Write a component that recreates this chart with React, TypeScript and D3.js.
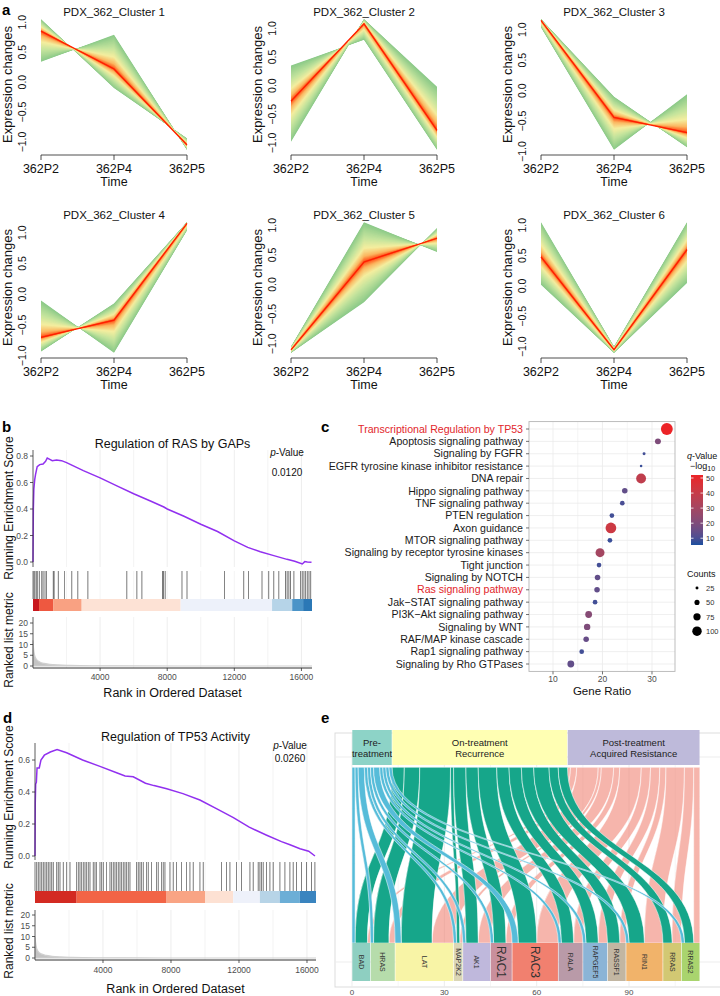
import React, { useEffect } from 'react';
import * as d3 from 'd3';

const FONT = "'Liberation Sans', Arial, Helvetica, sans-serif";

// ---------- a: Mfuzz soft clusters ----------
const timeLabels = ['362P2', '362P4', '362P5'];
const clusterTitles = [1, 2, 3, 4, 5, 6].map((i) => `PDX_362_Cluster ${i}`);
// centroid (membership = 1)
const clusterCentre = [
  [0.85, 0.22, -1.05],
  [-0.27, 1.08, -0.78],
  [1.15, -0.44, -0.69],
  [-0.7, -0.42, 1.15],
  [-1.1, 0.38, 0.78],
  [0.48, -1.05, 0.6],
];
// band edges reached by the lowest-membership genes (one side each)
const clusterEdgeA = [
  [1.05, -0.1, -0.94],
  [-0.98, 1.16, -0.02],
  [1.17, -0.1, -0.93],
  [-0.1, -0.95, 1.04],
  [-1.05, 1.05, 0.55],
  [1.05, -1.0, 1.05],
];
const clusterEdgeB = [
  [0.34, 0.79, -1.13],
  [0.35, 0.8, -1.12],
  [1.04, -0.97, -0.06],
  [-0.93, -0.15, 1.17],
  [-1.15, -0.3, 0.95],
  [0.02, -1.1, 0.05],
];

// ---------- b / d: GSEA ----------
const esB = [
  [0, 0], [20, 0.4], [50, 0.55], [100, 0.62], [150, 0.66], [250, 0.72], [400, 0.735], [600, 0.74],
  [750, 0.76], [850, 0.785], [1000, 0.775], [1150, 0.765], [1400, 0.77], [1700, 0.765], [2000, 0.75],
  [3000, 0.69], [4000, 0.635], [5000, 0.575], [6000, 0.515], [7000, 0.46], [7800, 0.415], [8000, 0.4],
  [9000, 0.345], [10000, 0.285], [11000, 0.23], [12000, 0.16], [12800, 0.11], [13550, 0.078],
  [14300, 0.05], [15140, 0.02], [15600, 0.005], [16050, -0.015], [16200, 0.003], [16350, 0.0], [16600, -0.002],
];
const hitsB = [
  0, 60, 120, 200, 280, 380, 520, 600, 716, 800, 1210, 1260, 1510, 1870, 2310, 2670, 3270, 5590, 6190,
  6490, 7720, 7780, 7880, 8880, 9180, 11420, 12560, 12850, 13650, 14050, 14350, 14650, 15050, 15150,
  15250, 15350, 15550, 15950, 16050, 16150, 16250, 16350, 16450, 16550,
];
const barBreaksB = [0, 360, 1200, 2900, 8800, 14250, 15450, 16100, 16630];
const barColoursB = ['#c8171d', '#ee5840', '#f9a182', '#fde2d5', '#edf1fa', '#b6d4e8', '#4b94c8', '#2b78b6'];
const metricB = [
  [0, 12], [30, 8.5], [80, 5.5], [150, 3.8], [250, 2.7], [400, 1.9], [650, 1.2], [1000, 0.8], [1500, 0.5],
  [2200, 0.3], [3500, 0.12], [6000, 0.04], [9000, 0], [16630, 0],
];

const esD = [
  [0, 0], [15, 0.33], [40, 0.45], [80, 0.46], [120, 0.55], [250, 0.55], [350, 0.6], [550, 0.63], [900, 0.65],
  [1300, 0.665], [1860, 0.645], [2800, 0.6], [3820, 0.56], [4800, 0.52], [5300, 0.5], [5780, 0.495],
  [6500, 0.455], [7000, 0.44], [7750, 0.42], [8700, 0.39], [9700, 0.35], [10700, 0.295], [11670, 0.24],
  [12600, 0.18], [13630, 0.13], [14500, 0.09], [15000, 0.07], [15590, 0.045], [16100, 0.03], [16470, 0.0],
];
const hitsD = [
  0, 98, 196, 294, 392, 490, 588, 686, 784, 882, 980, 1078, 1274, 1372, 1470, 1666, 1862, 2058, 2450, 2548,
  2646, 2744, 2842, 2940, 3038, 3136, 3234, 3430, 3528, 3626, 3822, 3920, 4018, 4214, 4410, 4508, 4606,
  4704, 4802, 4900, 4998, 5096, 5194, 5292, 5390, 5488, 5586, 5978, 6076, 6174, 6272, 6370, 6566, 6664,
  6860, 7154, 7252, 7448, 7546, 7644, 7938, 8134, 8330, 8624, 8918, 9114, 9310, 9702, 9898, 10976, 11270,
  11466, 11858, 12152, 12642, 12838, 13132, 13230, 13328, 13426, 13622, 13818, 14014, 14406, 14700, 14994,
  15190, 15386, 15680, 15974, 16268, 16464,
];
const barBreaksD = [0, 2450, 7740, 10000, 11660, 13230, 14400, 15580, 16530];
const barColoursD = ['#d32a22', '#f26446', '#f9a484', '#fde1d3', '#eef1fa', '#b7d4e7', '#6caed6', '#3a84bf'];
const metricD = [
  [0, 10], [30, 7.5], [80, 5], [150, 3.5], [250, 2.5], [400, 1.8], [650, 1.2], [1000, 0.8], [1500, 0.5],
  [2200, 0.3], [3500, 0.12], [6000, 0.04], [9000, 0], [16530, 0],
];

// ---------- c: pathway enrichment ----------
const pathways = [
  'Transcriptional Regulation by TP53', 'Apoptosis signaling pathway', 'Signaling by FGFR',
  'EGFR tyrosine kinase inhibitor resistance', 'DNA repair', 'Hippo signaling pathway',
  'TNF signaling pathway', 'PTEN regulation', 'Axon guidance', 'MTOR signaling pathway',
  'Signaling by receptor tyrosine kinases', 'Tight junction', 'Signaling by NOTCH',
  'Ras signaling pathway', 'Jak\u2212STAT signaling pathway', 'PI3K\u2212Akt signaling pathway',
  'Signaling by WNT', 'RAF/MAP kinase cascade', 'Rap1 signaling pathway', 'Signaling by Rho GTPases',
];
const geneRatio = [33.0, 31.2, 28.4, 27.8, 27.8, 24.5, 24.0, 21.9, 21.7, 21.5, 19.5, 19.3, 19.0, 18.9, 18.5, 17.2, 16.9, 16.7, 15.8, 13.6];
const pathCounts = [128, 60, 25, 20, 105, 55, 45, 45, 115, 45, 95, 45, 55, 55, 45, 70, 65, 55, 45, 70];
const negLogQ = [52, 20, 9, 8, 38, 14, 10, 9, 42, 8, 30, 9, 14, 14, 9, 22, 20, 15, 9, 14];
const highlighted = ['Transcriptional Regulation by TP53', 'Ras signaling pathway'];
const ratioTicks = [10, 20, 30];
const qTicks = [10, 20, 30, 40, 50];
const countTicks = [25, 50, 75, 100];

// ---------- e: alluvial ----------
const stageLines = [['Pre-', 'treatment'], ['On-treatment', 'Recurrence'], ['Post-treatment', 'Acquired Resistance']];
const genes = ['BAD', 'HRAS', 'LAT', 'MAP2K2', 'AK1', 'RAC1', 'RAC3', 'RALA', 'RAPGEF5', 'RASSF1', 'RIN1', 'RRAS', 'RRAS2'];
const genePre = [1, 1, 2, 1, 1, 1, 2, 1, 1, 0, 1, 0, 1];
const geneOn = [4, 5, 10, 1, 4, 4, 6, 4, 4, 4, 5, 3, 3];
const genePost = [1, 2, 7, 1, 4, 2, 7, 3, 3, 2, 6, 3, 2];
const axisTicksE = [0, 30, 60, 90];

const stageFill = ['#8dd3c7', '#ffffb3', '#bebada'];
const flowFill = ['#56bcd9', '#16a68a', '#ef8070'];
const flowOpacity = [1, 1, 0.58];
const geneFill = ['#8ecfc1', '#b6dcab', '#f8f4a6', '#dbd6b6', '#bfb8dc', '#c98f9c', '#f1806f', '#b99aa8', '#8bb4d6', '#c2b6a2', '#f1b36a', '#d2c873', '#a9d46e'];

// ================= components =================
const memberColour = d3
  .scaleLinear<string>()
  .domain([0, 0.05, 0.16, 0.36, 0.62, 1])
  .range(['#ff2000', '#ff6a28', '#fbb862', '#f4ee9f', '#c5e49d', '#8cca89']);

function MfuzzPanel({ i }: { i: number }) {
  const ox = (i % 3) * 250;
  const oy = Math.floor(i / 3) * 203;
  const c = clusterCentre[i];
  const a = clusterEdgeA[i];
  const b = clusterEdgeB[i];
  const [lo, hi] = d3.extent([...c, ...a, ...b]) as [number, number];
  const pad = (hi - lo) * 0.04;
  const y = d3.scaleLinear().domain([lo - pad, hi + pad]).range([oy + 155, oy + 14]);
  const x = d3.scalePoint<string>().domain(timeLabels).range([ox + 41, ox + 187]);
  const pts = (vals: number[]) => vals.map((v, j) => [x(timeLabels[j])!, y(v)] as [number, number]);
  const levels = d3.range(50).map((k) => 1 - k / 50);
  const line = d3.line();
  const poly = (k: number) => {
    const up = c.map((v, j) => v + k * (a[j] - v));
    const dn = c.map((v, j) => v + k * (b[j] - v));
    return line([...pts(up), ...pts(dn).reverse()]) + 'Z';
  };
  const fmt = d3.format('.1f');
  const ticks = y.ticks(5).filter((t) => Math.abs(t * 2 - Math.round(t * 2)) < 1e-9);
  return (
    <g>
      {levels.map((k) => (
        <path key={k} d={poly(k)} fill={memberColour(k)} />
      ))}
      <path d={line(pts(c))!} fill="none" stroke="#ff1f00" strokeWidth={1.3} />
      <text x={ox + 114} y={oy + 16} textAnchor="middle" fontSize={11.5} fill="#111">
        {clusterTitles[i]}
      </text>
      <line x1={x(timeLabels[0])} x2={x(timeLabels[2])} y1={oy + 155} y2={oy + 155} stroke="#222" strokeWidth={0.8} />
      {timeLabels.map((t) => (
        <g key={t}>
          <line x1={x(t)} x2={x(t)} y1={oy + 155} y2={oy + 160} stroke="#222" strokeWidth={0.8} />
          <text x={x(t)} y={oy + 172.5} textAnchor="middle" fontSize={12.5} fill="#111">
            {t}
          </text>
        </g>
      ))}
      <text x={ox + 114} y={oy + 185.5} textAnchor="middle" fontSize={12.5} fill="#111">
        Time
      </text>
      {ticks.map((t) => (
        <text key={t} transform={`translate(${ox + 26},${y(t)}) rotate(-90)`} textAnchor="middle" fontSize={10.5} fill="#111">
          {fmt(t)}
        </text>
      ))}
      <text transform={`translate(${ox + 12},${oy + 84.5}) rotate(-90)`} textAnchor="middle" fontSize={13} fill="#111">
        Expression changes
      </text>
    </g>
  );
}

interface GseaCfg {
  title: string;
  pval: string;
  xMax: number;
  left: number;
  right: number;
  esTop: number;
  esBottom: number;
  es0: number;
  esTickTop: number;
  esTickVal: number;
  esTicks: number[];
  hitTop: number;
  hitBottom: number;
  barBottom: number;
  rankTop: number;
  rank0: number;
  rank20: number;
  titleY: number;
  pX: number;
  pY1: number;
  pY2: number;
  esLabelY: number;
  rankLabelY: number;
  tickY: number;
  axisLabelY: number;
  es: number[][];
  hits: number[];
  breaks: number[];
  colours: string[];
  metric: number[][];
}

const cfgB: GseaCfg = {
  title: 'Regulation of RAS by GAPs', pval: '0.0120', xMax: 16630, left: 33, right: 312,
  esTop: 450, esBottom: 567, es0: 562, esTickTop: 456, esTickVal: 0.8, esTicks: [0, 0.2, 0.4, 0.6, 0.8],
  hitTop: 571, hitBottom: 599, barBottom: 611, rankTop: 617, rank0: 666, rank20: 623,
  titleY: 447.5, pX: 287, pY1: 455.5, pY2: 475.5, esLabelY: 508, rankLabelY: 640, tickY: 679.5, axisLabelY: 697,
  es: esB, hits: hitsB, breaks: barBreaksB, colours: barColoursB, metric: metricB,
};
const cfgD: GseaCfg = {
  title: 'Regulation of TP53 Activity', pval: '0.0260', xMax: 16530, left: 35, right: 316,
  esTop: 743, esBottom: 860, es0: 856, esTickTop: 760, esTickVal: 0.6, esTicks: [0, 0.2, 0.4, 0.6],
  hitTop: 862, hitBottom: 891, barBottom: 903, rankTop: 910, rank0: 958, rank20: 915,
  titleY: 740.5, pX: 290, pY1: 748.5, pY2: 761.5, esLabelY: 797, rankLabelY: 931, tickY: 972.5, axisLabelY: 993,
  es: esD, hits: hitsD, breaks: barBreaksD, colours: barColoursD, metric: metricD,
};

function Gsea({ cfg }: { cfg: GseaCfg }) {
  const x = d3.scaleLinear().domain([0, cfg.xMax]).range([cfg.left, cfg.right]);
  const yEs = d3.scaleLinear().domain([0, cfg.esTickVal]).range([cfg.es0, cfg.esTickTop]);
  const yRk = d3.scaleLinear().domain([0, 20]).range([cfg.rank0, cfg.rank20]);
  const esLine = d3
    .line<number[]>()
    .x((d) => x(d[0]))
    .y((d) => yEs(d[1]));
  const area = d3
    .area<number[]>()
    .x((d) => x(d[0]))
    .y0(yRk(0))
    .y1((d) => yRk(d[1]))
    .curve(d3.curveMonotoneX);
  const grid = d3.range(2000, cfg.xMax, 2000);
  const xTicks = [4000, 8000, 12000, 16000];
  const cx = (cfg.left + cfg.right) / 2;
  const axisGrey = '#4d4d4d';
  return (
    <g>
      {grid.map((g) => (
        <g key={g}>
          <line x1={x(g)} x2={x(g)} y1={cfg.esTop} y2={cfg.esBottom} stroke="#ebebeb" strokeWidth={g % 4000 ? 0.6 : 0.9} />
          <line x1={x(g)} x2={x(g)} y1={cfg.hitTop} y2={cfg.hitBottom} stroke="#ededed" strokeWidth={0.6} />
          <line x1={x(g)} x2={x(g)} y1={cfg.rankTop} y2={cfg.rank0 + 2} stroke="#ebebeb" strokeWidth={g % 4000 ? 0.6 : 0.9} />
        </g>
      ))}
      <path d={esLine(cfg.es)!} fill="none" stroke="#9130ef" strokeWidth={1.5} />
      {cfg.hits.map((h, k) => (
        <line key={k} x1={x(h)} x2={x(h)} y1={cfg.hitTop} y2={cfg.hitBottom} stroke="#111" strokeWidth={0.7} opacity={0.8} />
      ))}
      {cfg.colours.map((col, k) => (
        <rect key={k} x={x(cfg.breaks[k])} y={cfg.hitBottom} width={x(cfg.breaks[k + 1]) - x(cfg.breaks[k])} height={cfg.barBottom - cfg.hitBottom} fill={col} />
      ))}
      <path d={area(cfg.metric)!} fill="#c4c4c4" stroke="#d0d0d0" strokeWidth={1.2} />
      {/* axes */}
      <line x1={cfg.left} x2={cfg.left} y1={cfg.esTop} y2={cfg.esBottom} stroke="#333" strokeWidth={0.8} />
      {cfg.esTicks.map((t) => (
        <g key={t}>
          <line x1={cfg.left - 3} x2={cfg.left} y1={yEs(t)} y2={yEs(t)} stroke="#333" strokeWidth={0.8} />
          <text x={cfg.left - 5} y={yEs(t) + 3} textAnchor="end" fontSize={8.5} fill={axisGrey}>
            {t.toFixed(1)}
          </text>
        </g>
      ))}
      <line x1={cfg.left} x2={cfg.left} y1={cfg.rankTop} y2={cfg.rank0 + 2} stroke="#333" strokeWidth={0.8} />
      {[0, 5, 10, 15, 20].map((t) => (
        <g key={t}>
          <line x1={cfg.left - 3} x2={cfg.left} y1={yRk(t)} y2={yRk(t)} stroke="#333" strokeWidth={0.8} />
          <text x={cfg.left - 5} y={yRk(t) + 3} textAnchor="end" fontSize={8.5} fill={axisGrey}>
            {t}
          </text>
        </g>
      ))}
      <line x1={cfg.left} x2={cfg.right} y1={cfg.rank0 + 2} y2={cfg.rank0 + 2} stroke="#333" strokeWidth={1} />
      {xTicks.map((t) => (
        <g key={t}>
          <line x1={x(t)} x2={x(t)} y1={cfg.rank0 + 2} y2={cfg.rank0 + 5} stroke="#333" strokeWidth={0.8} />
          <text x={x(t)} y={cfg.tickY} textAnchor="middle" fontSize={8.5} fill={axisGrey}>
            {t}
          </text>
        </g>
      ))}
      <text x={cx} y={cfg.titleY} textAnchor="middle" fontSize={12.5} fill="#111">
        {cfg.title}
      </text>
      <text x={cfg.pX} y={cfg.pY1} textAnchor="middle" fontSize={10} fill="#111">
        <tspan fontStyle="italic">p</tspan>-Value
      </text>
      <text x={cfg.pX} y={cfg.pY2} textAnchor="middle" fontSize={10} fill="#111">
        {cfg.pval}
      </text>
      <text transform={`translate(13,${cfg.esLabelY}) rotate(-90)`} textAnchor="middle" fontSize={12} fill="#111">
        Running Enrichment Score
      </text>
      <text transform={`translate(13,${cfg.rankLabelY}) rotate(-90)`} textAnchor="middle" fontSize={12} fill="#111">
        Ranked list metric
      </text>
      <text x={cx} y={cfg.axisLabelY} textAnchor="middle" fontSize={12.5} fill="#111">
        Rank in Ordered Dataset
      </text>
    </g>
  );
}

function DotPlot() {
  const left = 529, right = 675, top = 421.6, bottom = 671.4;
  const y = d3.scalePoint<string>().domain(pathways).range([429, 664]);
  const x = d3.scaleLinear().domain([5.15, 34.65]).range([left, right]);
  const r = d3.scaleLinear().domain([0, 130]).range([0.4, 6]);
  const colour = d3.scaleLinear<string>().domain([5.5, 52]).range(['#1c4f9f', '#ec2327']).interpolate(d3.interpolateLab);
  const qBar = d3.scaleLinear().domain([5.5, 52]).range([545, 475]);
  const minor = [15, 25];
  const order = d3.range(pathways.length).sort((p, q) => pathCounts[q] - pathCounts[p]);
  return (
    <g>
      <defs>
        <linearGradient id="qgrad" x1="0" x2="0" y1="1" y2="0">
          {d3.range(0, 1.001, 0.1).map((s) => (
            <stop key={s} offset={s} stopColor={colour(5.5 + s * (52 - 5.5))} />
          ))}
        </linearGradient>
      </defs>
      {pathways.map((p) => (
        <line key={p} x1={left} x2={right} y1={y(p)} y2={y(p)} stroke="#ebebeb" strokeWidth={0.8} />
      ))}
      {[...ratioTicks, ...minor].map((t) => (
        <line key={t} x1={x(t)} x2={x(t)} y1={top} y2={bottom} stroke="#ebebeb" strokeWidth={ratioTicks.includes(t) ? 0.8 : 0.5} />
      ))}
      <rect x={left} y={top} width={right - left} height={bottom - top} fill="none" stroke="#b5b5b5" strokeWidth={0.9} />
      {pathways.map((p) => (
        <g key={p}>
          <line x1={left - 3} x2={left} y1={y(p)} y2={y(p)} stroke="#333" strokeWidth={0.7} />
          <text x={left - 6} y={y(p)! + 3.7} textAnchor="end" fontSize={10.6} fill={highlighted.includes(p) ? '#e2262b' : '#1a1a1a'}>
            {p}
          </text>
        </g>
      ))}
      {order.map((k) => (
        <circle key={k} cx={x(geneRatio[k])} cy={y(pathways[k])} r={r(pathCounts[k])} fill={colour(negLogQ[k])} />
      ))}
      {ratioTicks.map((t) => (
        <g key={t}>
          <line x1={x(t)} x2={x(t)} y1={bottom} y2={bottom + 3} stroke="#333" strokeWidth={0.7} />
          <text x={x(t)} y={bottom + 11} textAnchor="middle" fontSize={8.5} fill="#4d4d4d">
            {t}
          </text>
        </g>
      ))}
      <text x={(left + right) / 2} y={bottom + 24} textAnchor="middle" fontSize={11.5} fill="#111">
        Gene Ratio
      </text>
      {/* colour legend */}
      <text x={687} y={459} fontSize={9} fill="#111">
        <tspan fontStyle="italic">q</tspan>-Value
      </text>
      <text x={690} y={469} fontSize={9} fill="#111">
        {'\u2212log'}
        <tspan fontSize={7} dy={2}>
          10
        </tspan>
      </text>
      <rect x={691} y={475} width={12} height={70} fill="url(#qgrad)" />
      {qTicks.map((t) => (
        <g key={t}>
          <line x1={691} x2={693.5} y1={qBar(t)} y2={qBar(t)} stroke="#fff" strokeWidth={0.8} />
          <line x1={700.5} x2={703} y1={qBar(t)} y2={qBar(t)} stroke="#fff" strokeWidth={0.8} />
          <text x={706} y={qBar(t) + 2.8} fontSize={7.5} fill="#333">
            {t}
          </text>
        </g>
      ))}
      <text x={687} y={577} fontSize={9} fill="#111">
        Counts
      </text>
      {countTicks.map((t, k) => (
        <g key={t}>
          <circle cx={697} cy={588 + k * 14.4} r={r(t)} fill="#000" />
          <text x={706} y={588 + k * 14.4 + 2.8} fontSize={7.5} fill="#333">
            {t}
          </text>
        </g>
      ))}
    </g>
  );
}

function Alluvial() {
  const stageCounts = [genePre, geneOn, genePost];
  const total = d3.sum(genePre) + d3.sum(geneOn) + d3.sum(genePost);
  const x = d3.scaleLinear().domain([0, total + 0.7]).range([352, 702]);
  const yT = 767.3, yB = 943, h = yB - yT;
  // top positions: stage blocks, genes inside in order
  const stageStart: number[] = [];
  let acc = 0;
  stageCounts.forEach((s) => {
    stageStart.push(acc);
    acc += d3.sum(s);
  });
  const geneStart: number[] = [];
  acc = 0;
  genes.forEach((_, g) => {
    geneStart.push(acc);
    acc += genePre[g] + geneOn[g] + genePost[g];
  });
  const flows: { s: number; g: number; t0: number; t1: number; b0: number; b1: number }[] = [];
  const topCursor = [...stageStart];
  const botCursor = [...geneStart];
  genes.forEach((_, g) => {
    stageCounts.forEach((s, si) => {
      const n = s[g];
      if (!n) return;
      flows.push({ s: si, g, t0: topCursor[si], t1: topCursor[si] + n, b0: botCursor[g], b1: botCursor[g] + n });
      topCursor[si] += n;
      botCursor[g] += n;
    });
  });
  const ribbon = (f: (typeof flows)[number]) => {
    const p = d3.path();
    const a0 = x(f.t0), a1 = x(f.t1), b0 = x(f.b0), b1 = x(f.b1);
    const c1 = yT + h * 0.5, c2 = yB - h * 0.5;
    p.moveTo(a0, yT);
    p.bezierCurveTo(a0, c1, b0, c2, b0, yB);
    p.lineTo(b1, yB);
    p.bezierCurveTo(b1, c2, a1, c1, a1, yT);
    p.closePath();
    return p.toString();
  };
  const drawOrder = [2, 1, 0];
  const gridX = d3.range(0, 106, 15);
  return (
    <g>
      <rect x={335} y={733} width={386} height={254} fill="none" stroke="#d9d9d9" strokeWidth={0.9} />
      {gridX.map((t) => (
        <line key={t} x1={x(t)} x2={x(t)} y1={733} y2={987} stroke="#ebebeb" strokeWidth={t % 30 ? 0.5 : 0.9} />
      ))}
      <line x1={335} x2={720} y1={757} y2={757} stroke="#ebebeb" strokeWidth={0.9} />
      <line x1={335} x2={720} y1={962} y2={962} stroke="#ebebeb" strokeWidth={0.9} />
      {drawOrder.map((si) =>
        flows
          .filter((f) => f.s === si)
          .map((f, k) => (
            <path key={`${si}-${k}`} d={ribbon(f)} fill={flowFill[si]} fillOpacity={flowOpacity[si]} stroke="#fff" strokeWidth={0.5} />
          ))
      )}
      {stageLines.map((lines, si) => {
        const x0 = x(stageStart[si]);
        const x1 = x(stageStart[si] + d3.sum(stageCounts[si]));
        return (
          <g key={si}>
            <rect x={x0 + 0.3} y={730} width={x1 - x0 - 0.6} height={35} fill={stageFill[si]} />
            {lines.map((l, k) => (
              <text key={k} x={(x0 + x1) / 2} y={745.5 + k * 11} textAnchor="middle" fontSize={9.5} fill="#222">
                {l}
              </text>
            ))}
          </g>
        );
      })}
      {genes.map((gname, g) => {
        const x0 = x(geneStart[g]);
        const x1 = x(geneStart[g] + genePre[g] + geneOn[g] + genePost[g]);
        const big = gname === 'RAC1' || gname === 'RAC3';
        return (
          <g key={gname}>
            <rect x={x0 + 0.3} y={943} width={x1 - x0 - 0.6} height={38} fill={geneFill[g]} />
            <text transform={`translate(${(x0 + x1) / 2},962) rotate(90)`} textAnchor="middle" dy={big ? 4 : 2.4} fontSize={big ? 12 : 7} fill="#333">
              {gname}
            </text>
          </g>
        );
      })}
      {axisTicksE.map((t) => (
        <text key={t} x={x(t)} y={995} textAnchor="middle" fontSize={8} fill="#4d4d4d">
          {t}
        </text>
      ))}
    </g>
  );
}

function Letters() {
  const items: [string, number, number][] = [
    ['a', 2, 15],
    ['b', 2, 432],
    ['c', 321, 432],
    ['d', 3, 723],
    ['e', 321, 723],
  ];
  return (
    <g>
      {items.map(([t, lx, ly]) => (
        <text key={t} x={lx} y={ly} fontSize={15} fontWeight="bold" fill="#000">
          {t}
        </text>
      ))}
    </g>
  );
}

export default function App() {
  useEffect(() => {
    document.body.style.margin = '0';
  }, []);
  return (
    <svg width={720} height={996} viewBox="0 0 720 996" style={{ position: 'absolute', left: 0, top: 0, background: '#fff' }} fontFamily={FONT}>
      <rect width={720} height={996} fill="#fff" />
      {clusterTitles.map((_, i) => (
        <MfuzzPanel key={i} i={i} />
      ))}
      <Gsea cfg={cfgB} />
      <Gsea cfg={cfgD} />
      <DotPlot />
      <Alluvial />
      <Letters />
    </svg>
  );
}
